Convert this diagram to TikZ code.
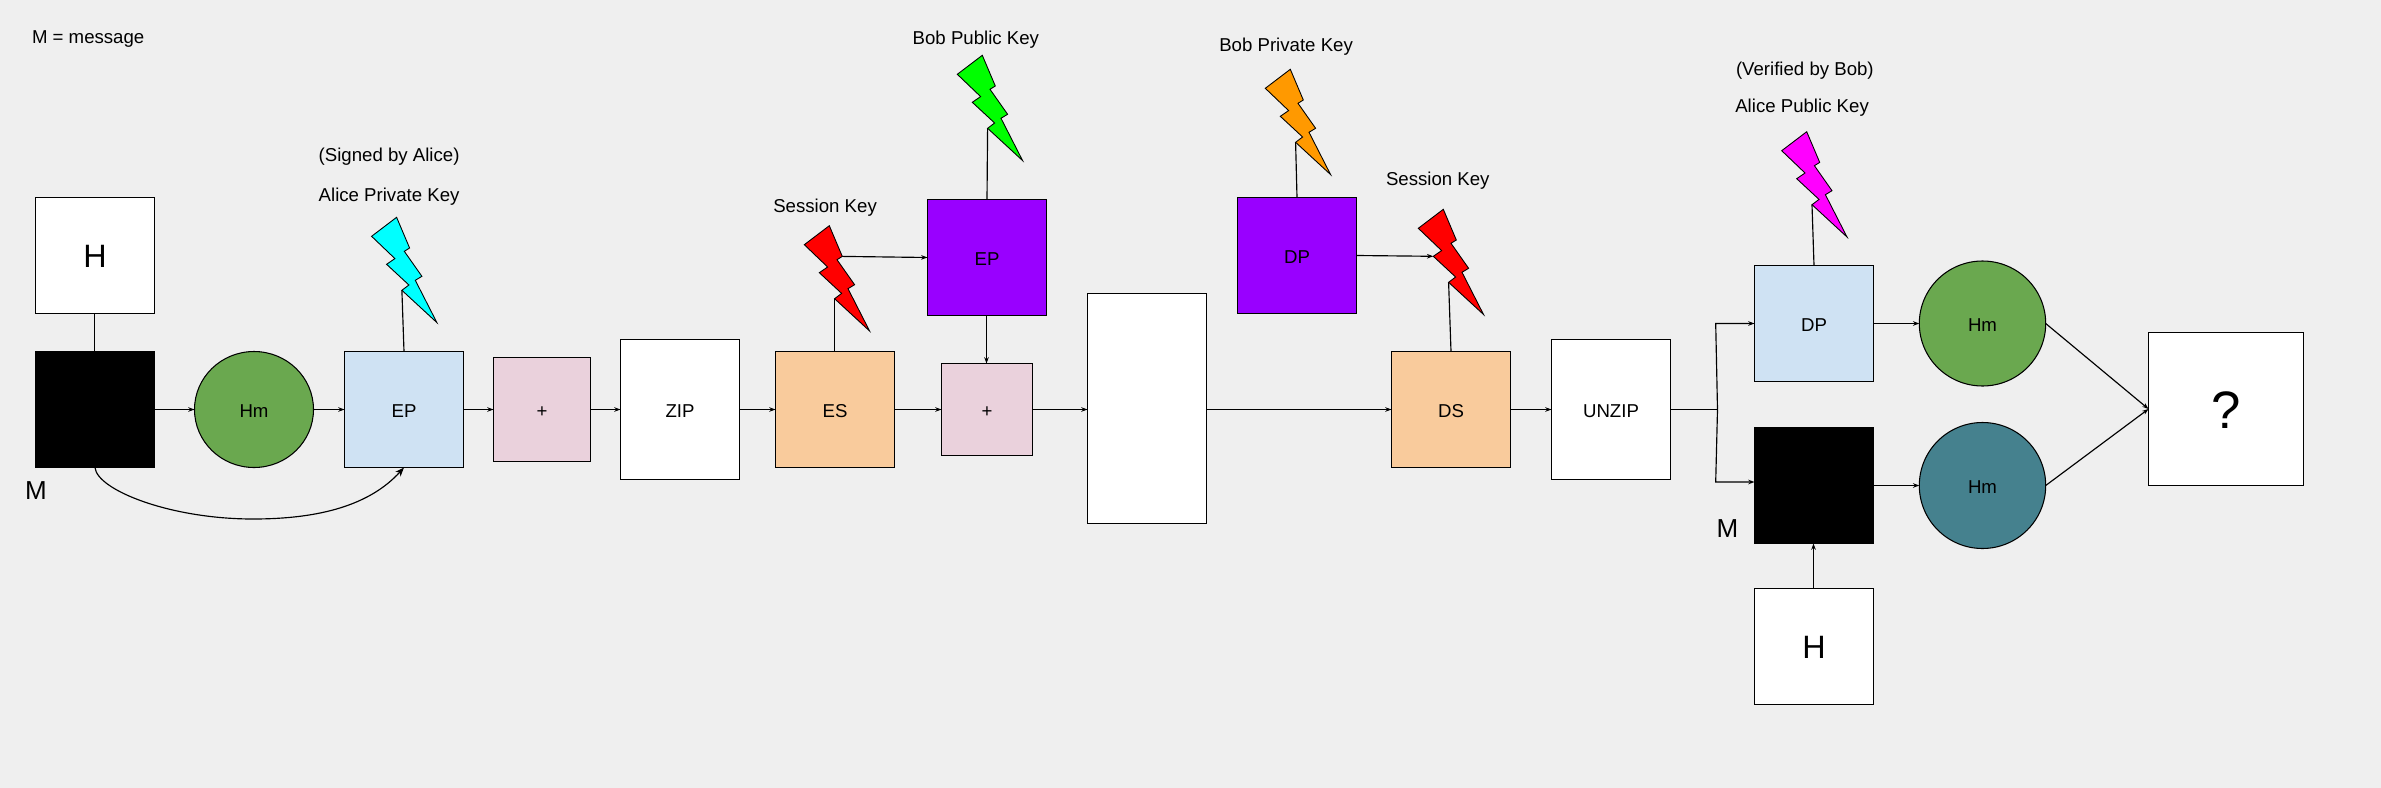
\documentclass[tikz,border=0pt]{standalone}
\usepackage{fontspec}
\setmainfont{Liberation Sans}
\usetikzlibrary{arrows.meta, shapes.geometric}

\definecolor{paper}{HTML}{EFEFEF}
\definecolor{hashgreen}{HTML}{6AA84F}
\definecolor{hashteal}{HTML}{45818E}
\definecolor{paleblue}{HTML}{CFE2F3}
\definecolor{palepink}{HTML}{EAD1DC}
\definecolor{paleorange}{HTML}{F9CB9C}
\definecolor{keyviolet}{HTML}{9900FF}
\definecolor{keyamber}{HTML}{FF9900}
\definecolor{keycyan}{HTML}{00FFFF}
\definecolor{keygreen}{HTML}{00FF00}
\definecolor{keyred}{HTML}{FF0000}
\definecolor{keymagenta}{HTML}{FF00FF}

\tikzset{
  pics/keybolt/.style={code={
    \draw[fill=#1, line width=0.25pt, line join=miter]
      (0,0) -- (0.13,-0.307) -- (0.077,-0.34) -- (0.253,-0.59) -- (0.187,-0.63)
      -- (0.403,-1.053) -- (0.053,-0.73) -- (0.123,-0.677) -- (-0.1,-0.47)
      -- (-0.017,-0.413) -- (-0.25,-0.19) -- cycle;
    \coordinate (-foot) at (0.053,-0.73);
    \coordinate (-side) at (0.13,-0.307);
    \coordinate (-notch) at (-0.1,-0.47);
  }}
}

\begin{document}
\begin{tikzpicture}[>={Stealth[length=1.8pt,width=1.3pt]}, line width=0.33pt,
  every node/.style={font=\fontsize{5.3}{6.4}\selectfont, inner sep=0pt, outer sep=0pt,
    text height=4.3pt, text depth=0pt},
  box/.style={draw, fill=white, line width=0.38pt, minimum width=1.19cm, minimum height=1.16cm},
  wide/.style={box, minimum height=1.40cm},
  sum/.style={box, fill=palepink},
  hash/.style={draw, ellipse, line width=0.3pt},
  blackbox/.style={box, fill=black},
  big/.style={font=\fontsize{9.2}{11}\selectfont, text height=6.9pt, text depth=0pt},
  msglabel/.style={anchor=west, font=\fontsize{7.4}{9}\selectfont, text height=5.5pt, text depth=0pt},
  keytext/.style={anchor=west, text height=5pt, text depth=1pt}
]

% Background
\fill[paper] (0,0) rectangle (23.81,-7.88);

\node[keytext] (note) at (0.32,-0.365) {M = message};

% Sender row
\node[box, big] (hashA) at (0.95,-2.555) {H};
\node[blackbox] (msgA) at (0.95,-4.095) {};
\node[msglabel] (markA) at (0.25,-4.90) {M};
\node[hash, fill=hashgreen, minimum width=1.19cm, minimum height=1.16cm] (hmA) at (2.54,-4.095) {Hm};
\node[box, fill=paleblue] (epA) at (4.04,-4.095) {EP};
\node[sum, minimum width=0.97cm, minimum height=1.04cm] (plusA) at (5.42,-4.095) {+};
\node[wide] (zip) at (6.80,-4.095) {ZIP};
\node[box, fill=paleorange] (esA) at (8.35,-4.095) {ES};
\node[box, fill=keyviolet] (epB) at (9.87,-2.575) {EP};
\node[sum, minimum width=0.91cm, minimum height=0.92cm] (plusB) at (9.87,-4.095) {+};
\node[box, minimum height=2.30cm] (packet) at (11.47,-4.085) {};

% Receiver row
\node[box, fill=keyviolet] (dpA) at (12.97,-2.555) {DP};
\node[box, fill=paleorange] (dsA) at (14.51,-4.095) {DS};
\node[wide] (unzip) at (16.11,-4.095) {UNZIP};
\node[box, fill=paleblue] (dpB) at (18.14,-3.235) {DP};
\node[hash, fill=hashgreen, minimum width=1.264cm, minimum height=1.25cm] (hmB) at (19.825,-3.235) {Hm};
\node[blackbox] (msgB) at (18.14,-4.855) {};
\node[msglabel] (markB) at (17.165,-5.28) {M};
\node[hash, fill=hashteal, minimum width=1.264cm, minimum height=1.26cm] (hmC) at (19.825,-4.855) {Hm};
\node[box, big] (hashB) at (18.14,-6.465) {H};
\node[box, minimum width=1.55cm, minimum height=1.53cm, font=\fontsize{15}{18}\selectfont, text height=11pt, text depth=0pt] (result) at (22.26,-4.09) {?};

% Keys
\pic (boltA) at (3.966,-2.173) {keybolt=keycyan};
\pic (boltB) at (9.823,-0.553) {keybolt=keygreen};
\pic (boltC) at (8.293,-2.257) {keybolt=keyred};
\pic (boltD) at (12.903,-0.693) {keybolt=keyamber};
\pic (boltE) at (14.433,-2.093) {keybolt=keyred};
\pic (boltF) at (18.067,-1.317) {keybolt=keymagenta};

% Key labels
\node[keytext] (signed) at (3.187,-1.54) {(Signed by Alice)};
\node[keytext] (alicePriv) at (3.187,-1.94) {Alice Private Key};
\node[keytext] (bobPub) at (9.127,-0.377) {Bob Public Key};
\node[keytext] (sessA) at (7.733,-2.057) {Session Key};
\node[keytext] (bobPriv) at (12.193,-0.443) {Bob Private Key};
\node[keytext] (sessB) at (13.86,-1.783) {Session Key};
\node[keytext] (verified) at (17.36,-0.683) {(Verified by Bob)};
\node[keytext] (alicePub) at (17.353,-1.057) {Alice Public Key};

\coordinate (split) at (17.175,-4.095);
\coordinate (splitUp) at (17.157,-3.235);
\coordinate (splitDown) at (17.157,-4.82);
\coordinate (curveLow) at (2.53,-5.19);

% Arrows
\draw ([xshift=-0.05mm]hashA.south) -- ([xshift=-0.05mm]msgA.north);
\draw[->] (msgA) -- (hmA);
\draw[->] (hmA) -- (epA);
\draw[->] (epA) -- (plusA);
\draw[->] (plusA) -- (zip);
\draw[->] (zip) -- (esA);
\draw[->] (esA) -- (plusB);
\draw[->] (plusB) -- (plusB -| packet.west);
\draw[->] (dsA -| packet.east) -- (dsA);
\draw[->] (dsA) -- (unzip);
\draw[->] ([xshift=-0.05mm]epB.south) -- ([xshift=-0.05mm]plusB.north);
\draw[-{Stealth[length=2.6pt,width=2pt]}] (msgA.south) .. controls (0.97,-4.9) and (1.7,-5.19) .. (curveLow)
  .. controls (3.2,-5.19) and (3.7,-5.05) .. (epA.south);

\draw (epA.north) -- (boltA-foot);
\draw (epB.north) -- (boltB-foot);
\draw (esA.north -| boltC-foot) -- (boltC-foot);
\draw[->] (boltC-side) -- (epB.west);
\draw (dpA.north) -- (boltD-foot);
\draw[->] (dpA.east) -- (boltE-notch);
\draw (dsA.north) -- (boltE-foot);
\draw (dpB.north) -- (boltF-foot);

\draw (unzip) -- (split);
\draw[->] (split) -- (splitUp) -- (splitUp -| dpB.west);
\draw[->] (split) -- (splitDown) -- (splitDown -| msgB.west);
\draw[->] (dpB) -- (hmB);
\draw[->] (msgB) -- (hmC);
\draw[->] ([xshift=-0.05mm]hashB.north) -- ([xshift=-0.05mm]msgB.south);
\draw[->] (hmB.east) -- (result.west);
\draw[->] (hmC.east) -- (result.west);

\end{tikzpicture}
\end{document}
